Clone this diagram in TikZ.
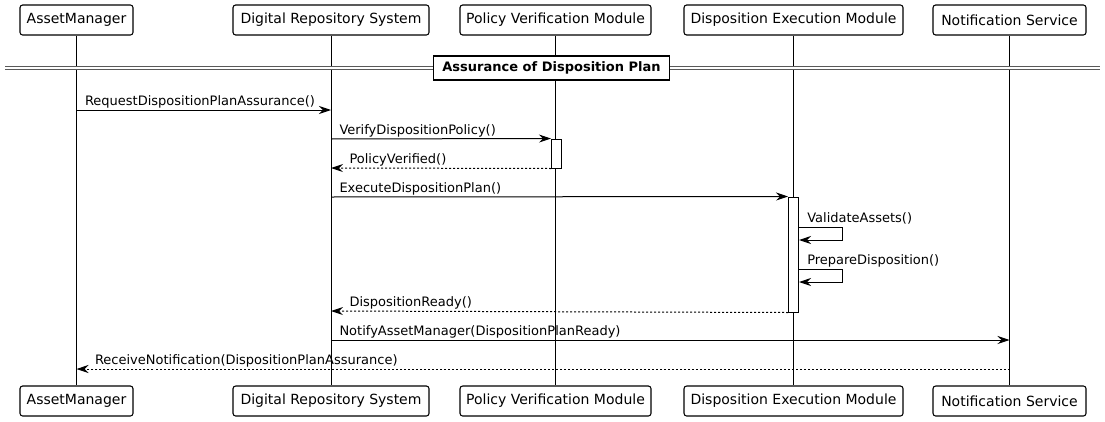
\documentclass[tikz,border=0pt]{standalone}
\usepackage{fontspec}
\setmainfont{DejaVu Sans}
\usetikzlibrary{positioning,arrows.meta}

\begin{document}
\begin{tikzpicture}[
    x=0.75pt, y=-0.75pt,
    font=\fontsize{9.75}{11}\selectfont,
    participant/.style={rectangle, draw, line width=0.8pt, rounded corners=2pt, fill=white,
      minimum height=22.5pt, inner sep=0pt, font=\fontsize{10.5}{12}\selectfont},
    lifeline/.style={line width=0.75pt},
    act/.style={rectangle, draw, line width=0.75pt, fill=white, minimum width=7.5pt, inner sep=0pt},
    msg/.style={line width=0.75pt, -{Stealth[length=9pt, width=6pt, inset=3pt]}},
    reply/.style={msg, dash pattern=on 1.5pt off 1.5pt},
    lbl/.style={inner sep=0pt, anchor=base west},
    grpbox/.style={rectangle, draw, line width=0.9pt, fill=white, minimum width=177pt,
      minimum height=18pt, inner sep=0pt, font=\bfseries\fontsize{9.75}{11}\selectfont}
  ]
    \useasboundingbox (0,0) rectangle (1105,421);

    \node[participant, minimum width=84.75pt] (am) at (76.5,20) {AssetManager};
    \node[participant, minimum width=147pt] (drs) at (331,20) {Digital Repository System};
    \node[participant, minimum width=143.25pt] (pvm) at (555.5,20) {Policy Verification Module};
    \node[participant, minimum width=164.25pt] (dem) at (793.5,20) {Disposition Execution Module};
    \node[participant, minimum width=114.75pt] (ns) at (1009.5,20) {Notification Service};

    \node[participant, minimum width=84.75pt] (am-b) at (76.5,401) {AssetManager};
    \node[participant, minimum width=147pt] (drs-b) at (331,401) {Digital Repository System};
    \node[participant, minimum width=143.25pt] (pvm-b) at (555.5,401) {Policy Verification Module};
    \node[participant, minimum width=164.25pt] (dem-b) at (793.5,401) {Disposition Execution Module};
    \node[participant, minimum width=114.75pt] (ns-b) at (1009.5,401) {Notification Service};

    \draw[lifeline] (am) -- (am-b);
    \draw[lifeline] (drs) -- (drs-b);
    \draw[lifeline] (pvm) -- (pvm-b);
    \draw[lifeline] (dem) -- (dem-b);
    \draw[lifeline] (ns) -- (ns-b);

    \coordinate (div-l) at (5,67.5);
    \coordinate (div-r) at (1100,67.5);
    \draw[double=white, double distance=1.5pt, line width=0.75pt, draw=black!65] (div-l) -- (div-r);
    \node[grpbox] (grp) at (551.5,68) {Assurance of Disposition Plan};

    \node[act, minimum height=21.75pt] (act1) at (556.5,153.5) {};
    \node[act, minimum height=86.25pt] (act2) at (793.5,254.5) {};

    \draw[msg] (am |- 0,110) -- (drs |- 0,110)
      node[lbl, pos=0, xshift=6pt, yshift=3.75pt] {RequestDispositionPlanAssurance()};
    \draw[msg] (drs |- 0,139) -- (act1.north west)
      node[lbl, pos=0, xshift=6pt, yshift=3.75pt] {VerifyDispositionPolicy()};
    \draw[reply] (act1.south west) -- (drs |- 0,168)
      node[lbl, pos=1, xshift=13.5pt, yshift=3.75pt] {PolicyVerified()};
    \draw[msg] (drs |- 0,197) -- (act2.north west)
      node[lbl, pos=0, xshift=6pt, yshift=3.75pt] {ExecuteDispositionPlan()};
    \draw[msg] (act2.east |- 0,227) -- ++(43,0) -- ++(0,13) -- (act2.east |- 0,240);
    \node[lbl] (va) at ([xshift=6pt, yshift=3.75pt] act2.east |- 0,227) {ValidateAssets()};
    \draw[msg] (act2.east |- 0,269) -- ++(43,0) -- ++(0,13) -- (act2.east |- 0,282);
    \node[lbl] (pd) at ([xshift=6pt, yshift=3.75pt] act2.east |- 0,269) {PrepareDisposition()};
    \draw[reply] (act2.south west) -- (drs |- 0,311)
      node[lbl, pos=1, xshift=13.5pt, yshift=3.75pt] {DispositionReady()};
    \draw[msg] (drs |- 0,340) -- (ns |- 0,340)
      node[lbl, pos=0, xshift=6pt, yshift=3.75pt] {NotifyAssetManager(DispositionPlanReady)};
    \draw[reply] (ns |- 0,369) -- (am |- 0,369)
      node[lbl, pos=1, xshift=13.5pt, yshift=3.75pt] {ReceiveNotification(DispositionPlanAssurance)};
\end{tikzpicture}
\end{document}
